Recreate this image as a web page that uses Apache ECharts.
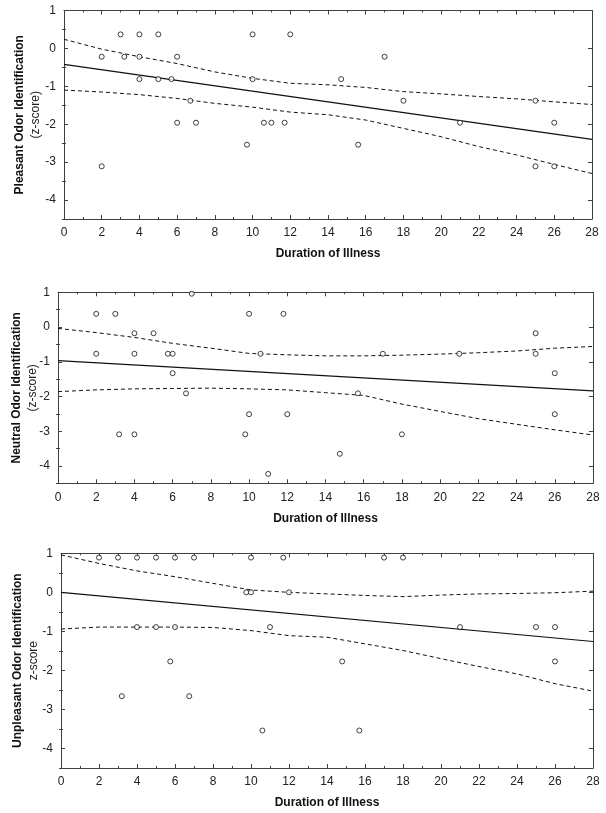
<!DOCTYPE html>
<html>
<head>
<meta charset="utf-8">
<script src="https://cdn.jsdelivr.net/npm/echarts@6/dist/echarts.min.js"></script>
<style>
html,body{margin:0;padding:0;background:#fff;}
#c{width:606px;height:813px;}
</style>
</head>
<body>
<div id="c"></div>
<script>
// ---- Data ----
const yTickValues = [-4, -3, -2, -1, 0, 1];
const yMinorValues = [-4.5, -3.5, -2.5, -1.5, -0.5, 0.5];

// Panel 1: Pleasant
const pleasantX = [2,2,3,3.2,4,4,4,5,5,5.7,6,6,6.7,7,9.7,10,10,10.6,11,11.7,12,14.7,15.6,17,18,21,25,25,26,26];
const pleasantY = [-0.22,-3.11,0.37,-0.22,0.37,-0.22,-0.81,0.37,-0.81,-0.81,-0.22,-1.96,-1.38,-1.96,-2.54,0.37,-0.81,-1.96,-1.96,-1.96,0.37,-0.81,-2.54,-0.22,-1.38,-1.96,-1.38,-3.11,-1.96,-3.11];
const pleasantFitX = [0, 28];
const pleasantFitY = [-0.42, -2.40];
const bandX = [0,2,4,6,8,10,12,14,16,18,20,22,24,26,28];
const pleasantUpper = [0.24,-0.02,-0.22,-0.40,-0.62,-0.79,-0.92,-0.96,-1.03,-1.14,-1.20,-1.27,-1.33,-1.41,-1.48];
const pleasantLower = [-1.10,-1.15,-1.22,-1.32,-1.45,-1.55,-1.68,-1.75,-1.89,-2.11,-2.33,-2.59,-2.81,-3.06,-3.30];

// Panel 2: Neutral
const neutralX = [2,2,3,3.2,4,4,4,5,5.75,6,6,6.7,7,9.8,10,10,10.6,11,11.8,12,14.75,15.7,17,18,21,25,25,26,26];
const neutralY = [0.38,-0.77,0.38,-3.09,-0.18,-0.77,-3.09,-0.18,-0.77,-0.77,-1.33,-1.91,0.96,-3.09,0.38,-2.51,-0.77,-4.23,0.38,-2.51,-3.65,-1.91,-0.77,-3.09,-0.77,-0.18,-0.77,-1.33,-2.51];
const neutralFitX = [0, 28];
const neutralFitY = [-0.97, -1.84];
const neutralUpper = [-0.04,-0.16,-0.30,-0.47,-0.61,-0.76,-0.80,-0.83,-0.83,-0.81,-0.78,-0.74,-0.69,-0.61,-0.56];
const neutralLower = [-1.86,-1.81,-1.78,-1.77,-1.76,-1.78,-1.81,-1.89,-1.97,-2.22,-2.43,-2.64,-2.80,-2.96,-3.11];

// Panel 3: Unpleasant
const unpleasantX = [2,3,4,5,6,7,10,11.7,9.75,10,12,4,5,6,11,5.75,3.2,6.75,10.6,17,18,14.8,15.7,21,25,26,26];
const unpleasantY = [0.89,0.89,0.89,0.89,0.89,0.89,0.89,0.89,0,0,0,-0.89,-0.89,-0.89,-0.89,-1.77,-2.66,-2.66,-3.54,0.89,0.89,-1.77,-3.54,-0.89,-0.89,-0.89,-1.77];
const unpleasantFitX = [0, 28];
const unpleasantFitY = [0, -1.26];
const unpleasantUpper = [0.96,0.74,0.55,0.40,0.23,0.06,0.00,-0.04,-0.08,-0.11,-0.07,-0.04,-0.03,-0.01,0.03];
const unpleasantLower = [-0.94,-0.89,-0.89,-0.89,-0.90,-0.98,-1.11,-1.15,-1.32,-1.49,-1.70,-1.90,-2.09,-2.34,-2.53];

const xTitle = 'Duration of Illness';
const panels = [
  {title:'Pleasant Odor Identification', sub:'(z-score)', x:pleasantX, y:pleasantY, fx:pleasantFitX, fy:pleasantFitY, up:pleasantUpper, lo:pleasantLower,
   grid:{left:64, right:14, top:10.5, height:208.5}, gap:20},
  {title:'Neutral Odor Identification', sub:'(z-score)', x:neutralX, y:neutralY, fx:neutralFitX, fy:neutralFitY, up:neutralUpper, lo:neutralLower,
   grid:{left:58, right:13, top:292.3, height:191}, gap:17},
  {title:'Unpleasant Odor Identification', sub:'z-score', x:unpleasantX, y:unpleasantY, fx:unpleasantFitX, fy:unpleasantFitY, up:unpleasantUpper, lo:unpleasantLower,
   grid:{left:61, right:13, top:553.3, height:214.7}, gap:19}
];

const FONT = '"Liberation Sans", Arial, sans-serif';
const AX = '#404040';
const zip = (a, b) => a.map((v, i) => [v, b[i]]);

const grid = [], xAxis = [], yAxis = [], series = [];
panels.forEach((p, gi) => {
  grid.push(p.grid);
  const xi = xAxis.length;
  xAxis.push({
    gridIndex: gi, type: 'value', position: 'bottom', min: 0, max: 28, interval: 2,
    name: xTitle, nameLocation: 'middle', nameGap: 29,
    nameTextStyle: {fontFamily: FONT, fontWeight: 'bold', fontSize: 12, color: '#111'},
    axisLine: {show: true, onZero: false, lineStyle: {color: AX, width: 1}},
    axisTick: {show: true, inside: true, length: 4, lineStyle: {color: AX}},
    minorTick: {show: true, splitNumber: 2, length: 2, lineStyle: {color: AX}},
    axisLabel: {fontFamily: FONT, fontSize: 12, color: '#222', margin: 8},
    splitLine: {show: false}
  });
  xAxis.push({
    gridIndex: gi, type: 'value', position: 'top', min: 0, max: 28, interval: 2,
    axisLine: {show: true, onZero: false, lineStyle: {color: AX, width: 1}},
    axisTick: {show: true, inside: true, length: 4, lineStyle: {color: AX}},
    minorTick: {show: true, splitNumber: 2, length: 2, lineStyle: {color: AX}},
    axisLabel: {show: false}, splitLine: {show: false}
  });
  const yi = yAxis.length;
  yAxis.push({
    gridIndex: gi, type: 'value', position: 'left', min: -4.5, max: 1,
    name: '{b|' + p.title + '}\n{n|' + p.sub + '}', nameLocation: 'middle', nameGap: p.gap, nameRotate: 90,
    nameMoveOverlap: false,
    nameTextStyle: {rich: {
      b: {fontFamily: FONT, fontWeight: 'bold', fontSize: 12, color: '#111', lineHeight: 16, align: 'center'},
      n: {fontFamily: FONT, fontSize: 12, color: '#222', lineHeight: 16, align: 'center'}
    }},
    axisLine: {show: true, onZero: false, lineStyle: {color: AX, width: 1}},
    axisTick: {show: true, inside: true, length: 4, customValues: yTickValues, lineStyle: {color: AX}},
    axisLabel: {fontFamily: FONT, fontSize: 12, color: '#222', margin: 8, customValues: yTickValues},
    splitLine: {show: false}
  });
  yAxis.push({
    gridIndex: gi, type: 'value', position: 'right', min: -4.5, max: 1,
    axisLine: {show: true, onZero: false, lineStyle: {color: AX, width: 1}},
    axisTick: {show: true, inside: true, length: 4, customValues: yTickValues, lineStyle: {color: AX}},
    axisLabel: {show: false}, splitLine: {show: false}
  });
  yAxis.push({
    gridIndex: gi, type: 'value', position: 'left', min: -4.5, max: 1,
    axisLine: {show: false},
    axisTick: {show: true, inside: true, length: 2, customValues: yMinorValues, lineStyle: {color: AX}},
    axisLabel: {show: false}, splitLine: {show: false}
  });
  yAxis.push({
    gridIndex: gi, type: 'value', position: 'right', min: -4.5, max: 1,
    axisLine: {show: false},
    axisTick: {show: true, inside: true, length: 2, customValues: yMinorValues, lineStyle: {color: AX}},
    axisLabel: {show: false}, splitLine: {show: false}
  });
  const lineBase = {type: 'line', xAxisIndex: xi, yAxisIndex: yi, showSymbol: false, symbol: 'none', silent: true, animation: false};
  series.push(Object.assign({}, lineBase, {data: zip(p.fx, p.fy), lineStyle: {color: '#111', width: 1.2}, z: 2}));
  series.push(Object.assign({}, lineBase, {data: zip(bandX, p.up), lineStyle: {color: '#111', width: 1, type: [4, 3]}, z: 2}));
  series.push(Object.assign({}, lineBase, {data: zip(bandX, p.lo), lineStyle: {color: '#111', width: 1, type: [4, 3]}, z: 2}));
  series.push({
    type: 'scatter', xAxisIndex: xi, yAxisIndex: yi, data: zip(p.x, p.y),
    symbol: 'circle', symbolSize: 5, animation: false, z: 3,
    itemStyle: {color: '#fff', borderColor: '#111', borderWidth: 1}
  });
});

const chart = echarts.init(document.getElementById('c'), null, {renderer: 'canvas'});
chart.setOption({animation: false, backgroundColor: '#fff', grid, xAxis, yAxis, series});
</script>
</body>
</html>
